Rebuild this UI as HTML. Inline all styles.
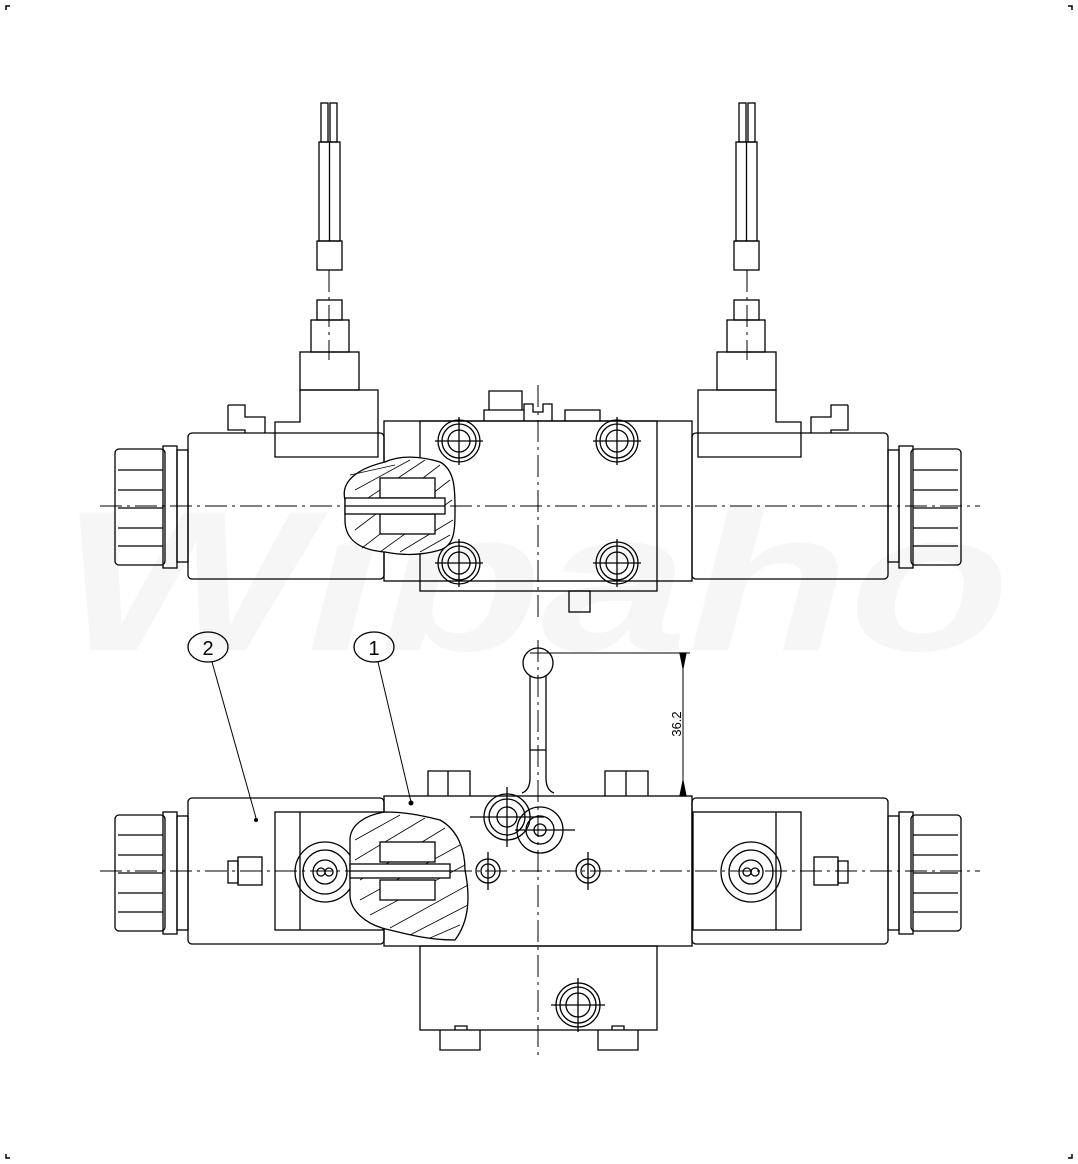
<!DOCTYPE html>
<html><head><meta charset="utf-8"><style>
html,body{margin:0;padding:0;background:#fff}
svg{display:block}
</style></head><body>
<svg width="1078" height="1164" viewBox="0 0 1078 1164" xmlns="http://www.w3.org/2000/svg" font-family="Liberation Sans, sans-serif">
<rect width="1078" height="1164" fill="#fff"/>
<!-- watermark -->
<text x="60" y="650" font-size="200" font-weight="bold" font-style="italic" fill="#f6f6f6" textLength="950" lengthAdjust="spacingAndGlyphs">Wibaho</text>
<!-- corner marks -->
<g stroke="#000" stroke-width="1.5" fill="none">
<path d="M6 10V6H10M1068 6H1072V10M6 1154V1158H10M1068 1158H1072V1154"/>
</g>
<g stroke="#000" stroke-width="1.3" fill="none">
<g id="half">
<rect x="115" y="449" width="50" height="116" rx="4"/>
<path d="M118 470H163M118 490H163M118 508H163M118 528H163M118 546H163"/>
<rect x="163" y="446" width="14" height="122"/>
<rect x="177" y="450" width="11" height="112"/>
<rect x="188" y="433" width="196" height="146" rx="4"/>
<path d="M275 457V422H300V390H378V457Z"/>
<rect x="300" y="352" width="59" height="38"/>
<rect x="311" y="320" width="38" height="32"/>
<rect x="317" y="300" width="25" height="20"/>
<rect x="317" y="241" width="25" height="29"/>
<rect x="319" y="142" width="21" height="99"/>
<path d="M329.5 142V241"/>
<rect x="321" y="103" width="7" height="39"/>
<rect x="330" y="103" width="7" height="39"/>
<path d="M228 405H245V417H265V433M228 405V430H245V433"/>
<circle cx="459" cy="441" r="21"/><circle cx="459" cy="441" r="17"/><circle cx="459" cy="441" r="11"/>
<circle cx="459" cy="563" r="21"/><circle cx="459" cy="563" r="17"/><circle cx="459" cy="563" r="11"/>
<path d="M435 441H483M459 417V465M435 563H483M459 539V587"/>
<rect x="188" y="798" width="196" height="146" rx="4"/>
<rect x="115" y="815" width="50" height="116" rx="4"/>
<path d="M118 835H163M118 855H163M118 873H163M118 893H163M118 912H163"/>
<rect x="163" y="812" width="14" height="122"/>
<rect x="177" y="816" width="11" height="114"/>
<rect x="275" y="812" width="108" height="118"/>
<path d="M300 812V930"/>
<rect x="238" y="857" width="24" height="28"/>
<rect x="228" y="861" width="10" height="22"/>
<circle cx="325" cy="872" r="30"/><circle cx="325" cy="872" r="22"/><circle cx="325" cy="872" r="12"/>
<circle cx="321" cy="872" r="4"/><circle cx="329" cy="872" r="4"/>
</g>
<use href="#half" transform="matrix(-1 0 0 1 1076 0)"/>
<rect x="384" y="421" width="308" height="160"/>
<rect x="420" y="421" width="237" height="170"/>
<rect x="569" y="591" width="21" height="21"/>
<path d="M484 421V410H524V421M489 410V391H522V410M524 421V404H533V412H543V404H552V421M565 421V410H600V421"/>
<path d="M345 500C340 480 360 468 385 462C400 455 420 456 440 462C455 470 455 490 455 508C455 530 455 545 440 550C420 556 400 555 385 552C360 550 345 540 345 520Z" fill="#fff"/>
<g stroke-width="0.8">
<path d="M350 475L395 465M355 490L410 460M350 510L425 460M355 530L440 465M362 548L450 480M380 552L452 500M400 552L453 520M420 552L450 535"/>
</g>
<rect x="380" y="478" width="55" height="20" fill="#fff"/>
<rect x="380" y="514" width="55" height="20" fill="#fff"/>
<rect x="345" y="498" width="100" height="16" fill="#fff"/>
<path d="M345 506H445"/>
<rect x="384" y="796" width="308" height="150"/>
<rect x="420" y="946" width="237" height="84"/>
<path d="M440 1030V1050H480V1030M598 1030V1050H638V1030M455 1030V1026H467V1030M612 1030V1026H624V1030"/>
<path d="M428 796V771H470V796M448 771V796M605 796V771H648V796M626 771V796"/>
<circle cx="578" cy="1005" r="22"/><circle cx="578" cy="1005" r="18"/><circle cx="578" cy="1005" r="12"/>
<path d="M551 1005H605M578 978V1032"/>
<circle cx="507" cy="817" r="23"/><circle cx="507" cy="817" r="18"/><circle cx="507" cy="817" r="10"/>
<circle cx="540" cy="830" r="23"/><circle cx="540" cy="830" r="14"/><circle cx="540" cy="830" r="6"/>
<circle cx="488" cy="871" r="12"/><circle cx="488" cy="871" r="7"/>
<circle cx="588" cy="871" r="12"/><circle cx="588" cy="871" r="7"/>
<path d="M470 817H544M507 787V847M515 830H575M488 852V890M588 852V890"/>
<path d="M350 840C350 825 365 815 385 812C405 812 420 815 440 820C458 830 465 850 465 870C470 895 470 920 455 940C430 940 410 935 390 930C365 925 350 910 350 895Z" fill="#fff"/>
<g stroke-width="0.8">
<path d="M355 840L400 815M355 860L425 818M360 880L445 828M360 900L460 845M370 915L465 865M390 928L468 885M410 935L468 905M430 938L460 925"/>
</g>
<rect x="380" y="842" width="55" height="20" fill="#fff"/>
<rect x="380" y="880" width="55" height="20" fill="#fff"/>
<rect x="350" y="864" width="100" height="14" fill="#fff"/>
<path d="M350 871H450"/>
<circle cx="538" cy="663" r="15"/>
<path d="M530 676V778Q530 790 522 793M546 676V778Q546 790 554 793M530 750H546"/>
<path d="M530 653H690M683 653V796" stroke-width="1"/>
<path d="M680 653L683 668L686 653ZM680 796L683 781L686 796Z" fill="#000"/>
<ellipse cx="208" cy="647" rx="20" ry="15"/>
<ellipse cx="374" cy="647" rx="20" ry="15"/>
<path d="M212 662L256 818M378 662L411 802" stroke-width="1"/>
</g>
<circle cx="256" cy="820" r="2"/>
<circle cx="411" cy="803" r="2.5"/>
<text x="208" y="655" font-size="20" text-anchor="middle">2</text>
<text x="374" y="655" font-size="20" text-anchor="middle">1</text>
<text transform="translate(681,724) rotate(-90)" font-size="13" text-anchor="middle">36.2</text>
<g stroke="#000" stroke-width="1" stroke-dasharray="22 5 3 5" fill="none">
<path d="M100 506H980M100 871H980M538 385V620M538 640V1060M329 270V360M747 270V360"/>
</g>
</svg>
</body></html>
